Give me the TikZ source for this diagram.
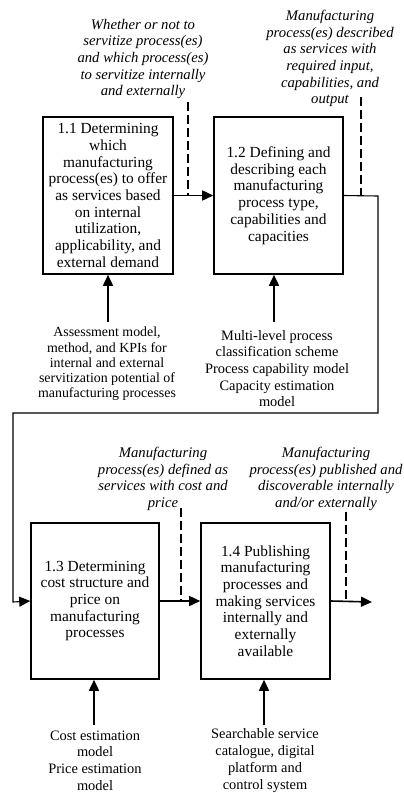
\documentclass[tikz,border=0pt]{standalone}
\usepackage{fontspec}
\setmainfont{Liberation Serif}
\usetikzlibrary{arrows.meta}
\begin{document}
\begin{tikzpicture}[x=1pt,y=-1pt,
  txt/.style={font=\fontsize{14.4}{16.7}\selectfont, align=center, inner sep=0pt},
  smalltxt/.style={txt, font=\fontsize{13.9}{15.3}\selectfont},
  outlbl/.style={txt, font=\fontsize{14.7}{16.6}\selectfont\itshape},
  actbox/.style={draw, line width=1.6pt, txt, font=\fontsize{15.4}{16.7}\selectfont, minimum width=#1},
  flow/.style={line width=1.6pt, -{Triangle[length=11pt,width=10pt]}},
  loopflow/.style={line width=1.1pt, -{Triangle[length=11pt,width=10pt]}},
  ctrl/.style={line width=1.1pt, dash pattern=on 9pt off 4pt}
]
\useasboundingbox (0,0) rectangle (404,793);

% activity boxes
\node[actbox=130pt, minimum height=157pt] (b11) at (108,195.5)
  {1.1 Determining\\which\\manufacturing\\process(es) to offer\\as services based\\on internal\\utilization,\\applicability, and\\external demand};
\node[actbox=129pt, minimum height=157pt] (b12) at (278.5,195.5)
  {1.2 Defining and\\describing each\\manufacturing\\process type,\\capabilities and\\capacities};
\node[actbox=128pt, minimum height=156pt] (b13) at (95,601)
  {1.3 Determining\\cost structure and\\price on\\manufacturing\\processes};
\node[actbox=129pt, minimum height=156pt] (b14) at (265.5,601)
  {1.4 Publishing\\manufacturing\\processes and\\making services\\internally and\\externally\\available};

% output labels
\node[outlbl] (o1) at (143,59)
  {Whether or not to\\servitize process(es)\\and which process(es)\\to servitize internally\\and externally};
\node[outlbl] (o2) at (330,58.5)
  {Manufacturing\\process(es) described\\as services with\\required input,\\capabilities, and\\output};
\node[outlbl] (o3) at (163,479)
  {Manufacturing\\process(es) defined as\\services with cost and\\price};
\node[outlbl] (o4) at (326,479)
  {Manufacturing\\process(es) published and\\discoverable internally\\and/or externally};

% mechanism labels
\node[smalltxt] (m1) at (107,364)
  {Assessment model,\\method, and KPIs for\\internal and external\\servitization potential of\\manufacturing processes};
\node[txt] (m2) at (277,368.5)
  {Multi-level process\\classification scheme\\Process capability model\\Capacity estimation\\model};
\node[txt] (m3) at (95,760.5)
  {Cost estimation\\model\\Price estimation\\model};
\node[txt] (m4) at (265,760.5)
  {Searchable service\\catalogue, digital\\platform and\\control system};

% connector anchor points
\coordinate (d1) at (188,102);
\coordinate (d2) at (361,97);
\coordinate (d3) at (181,508);
\coordinate (d4) at (346,512);
\coordinate (r1) at (378,196);
\coordinate (r2) at (378,413);
\coordinate (l1) at (13,413);
\coordinate (l2) at (13,602);
\coordinate (out) at (372,602);
\coordinate (i1) at (108,322);
\coordinate (i2) at (274,322);
\coordinate (i3) at (94,725);
\coordinate (i4) at (264,725);

% flows between activities
\draw[flow] (b11.east) -- (b12.west);
\draw[loopflow] (b12.east) -- (r1) -- (r2) -- (l1) -- (l2) -- (b13.west);
\draw[flow] (b13.east) -- (b14.west);
\draw[flow] (b14.east) -- (out);

% dashed leaders from output labels
\draw[ctrl] (d1) -- (d1 |- b11.east);
\draw[ctrl] (d2) -- (d2 |- b12.east);
\draw[ctrl] (d3) -- (d3 |- b13.east);
\draw[ctrl] (d4) -- (d4 |- b14.east);

% mechanism arrows
\draw[flow] (i1) -- (i1 |- b11.south);
\draw[flow] (i2) -- (i2 |- b12.south);
\draw[flow] (i3) -- (i3 |- b13.south);
\draw[flow] (i4) -- (i4 |- b14.south);
\end{tikzpicture}
\end{document}
